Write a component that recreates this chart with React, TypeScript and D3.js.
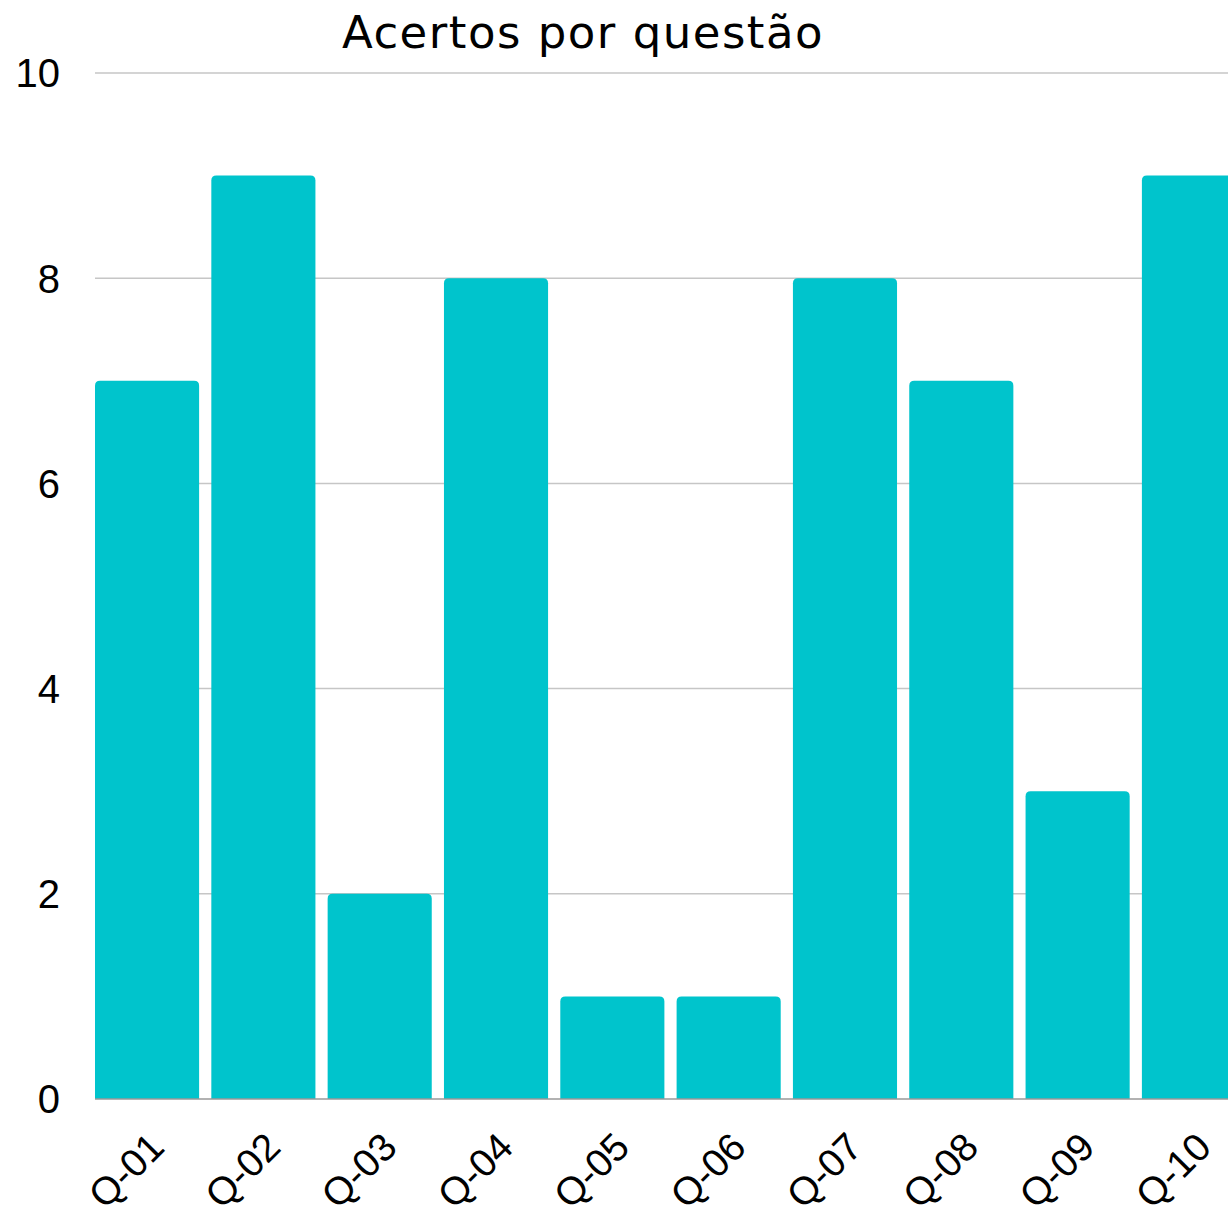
import React from 'react';
import * as d3 from 'd3';

const questions = ['Q-01', 'Q-02', 'Q-03', 'Q-04', 'Q-05', 'Q-06', 'Q-07', 'Q-08', 'Q-09', 'Q-10'];
const hits = [7, 9, 2, 8, 1, 1, 8, 7, 3, 9];
const yTicks = [0, 2, 4, 6, 8, 10];

const width = 1228;
const height = 1214;
const left = 95;
const right = 1246;
const top = 73;
const bottom = 1099;
const r = 5;

function barPath(x: number, y: number, w: number, h: number) {
    return `M${x},${y + h}V${y + r}Q${x},${y} ${x + r},${y}H${x + w - r}Q${x + w},${y} ${x + w},${y + r}V${y + h}Z`;
}

export default function App() {
    const x = d3.scaleBand().domain(questions).range([left, right]).paddingInner(0.105).paddingOuter(0);
    const y = d3.scaleLinear().domain([0, 10]).range([bottom, top]);

    return (
        <svg
            width={width}
            height={height}
            style={{ position: 'absolute', left: 0, top: 0, background: '#fff' }}
        >
            <text
                x={583}
                y={48}
                textAnchor="middle"
                fontFamily="'DejaVu Sans', sans-serif"
                fontSize={45}
                letterSpacing={1.5}
                fill="#000"
            >
                Acertos por questão
            </text>
            <g>
                {yTicks.map(t => (
                    <g key={t}>
                        {t > 0 && (
                            <line x1={left} x2={width} y1={y(t)} y2={y(t)} stroke="#c6c6c6" strokeWidth={1.5} />
                        )}
                        <text
                            x={60}
                            y={y(t)}
                            dy="0.36em"
                            textAnchor="end"
                            fontFamily="'Liberation Sans', Arial, sans-serif"
                            fontSize={40}
                            fill="#000"
                        >
                            {t}
                        </text>
                    </g>
                ))}
            </g>
            <g>
                {questions.map((q, i) => (
                    <path
                        key={q}
                        d={barPath(x(q)!, y(hits[i]), x.bandwidth(), y(0) - y(hits[i]))}
                        fill="#00c4cc"
                    />
                ))}
            </g>
            <line x1={left} x2={width} y1={bottom} y2={bottom} stroke="#999" strokeWidth={1.5} />
            <g>
                {questions.map(q => {
                    const cx = x(q)! + x.bandwidth() / 2;
                    return (
                        <text
                            key={q}
                            transform={`translate(${cx},${1130}) rotate(-45)`}
                            textAnchor="end"
                            dy="0.7em"
                            fontFamily="'Liberation Sans', Arial, sans-serif"
                            fontSize={39}
                            fill="#000"
                        >
                            {q}
                        </text>
                    );
                })}
            </g>
        </svg>
    );
}
